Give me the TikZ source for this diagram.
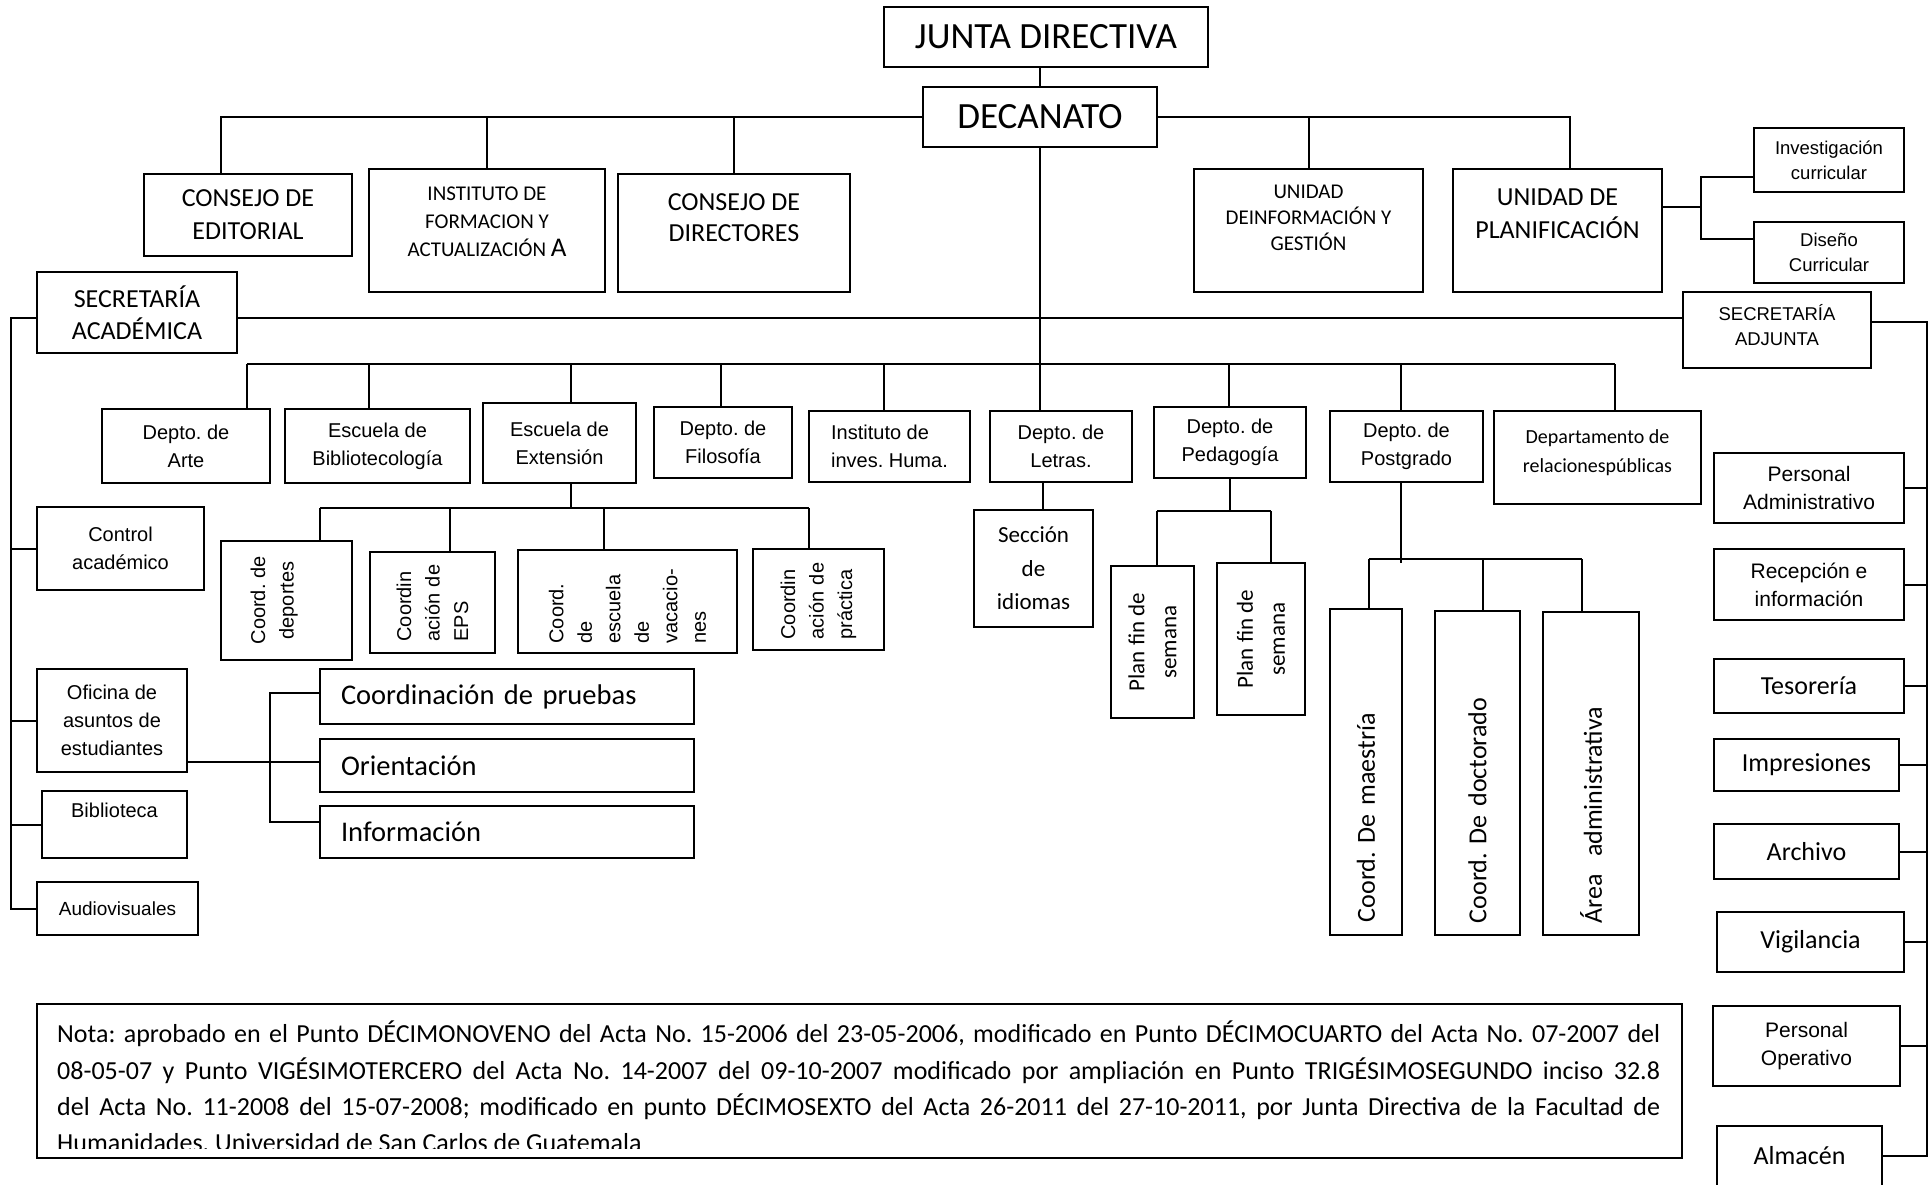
\documentclass[tikz,border=0pt]{standalone}
\usepackage{fontspec}
\setmainfont{Carlito}
\newfontfamily\arialfont{Liberation Sans}
\usetikzlibrary{positioning}
\newcommand{\fsz}[2]{\fontsize{#1}{#2}\selectfont}

\begin{document}
\frenchspacing
\begin{tikzpicture}[
		x=1pt, y=-1pt,
		% Style definitions
		box/.style={draw, line width=1.3pt, inner sep=2pt, align=center, fill=white},
		heavybox/.style={draw, line width=2.8pt, inner xsep=21pt, text width=332pt, align=left, fill=white, font=\fsz{28.5}{32}},
		arl/.style={font=\arialfont\fsz{20}{28}},
		arlsmall/.style={font=\arialfont\fsz{18.5}{25}},
		arlbig/.style={font=\arialfont\fsz{21}{28}},
		vert/.style={box, rotate=90, font=\arialfont\fsz{20}{28.5}},
		notetext/.style={font=\fsz{26}{36.2}, align=left, inner sep=0pt},
		link/.style={line width=2pt},
		]
		\fill[white] (0,0) rectangle (1931,1185);
		\useasboundingbox (0,0) rectangle (1931,1185);

		% === TOP: governing bodies ===
		\node[box, font=\fsz{37}{40}, minimum width=324pt, minimum height=60pt] (junta) at (1046,37) {JUNTA DIRECTIVA};
		\node[box, font=\fsz{37}{40}, minimum width=234pt, minimum height=60pt] (decanato) at (1040,117) {DECANATO};

		% === ROW 1: councils and units ===
		\node[box, font=\fsz{26}{33}, minimum width=208pt, minimum height=82pt] (editorial) at (248,215) {CONSEJO DE\\EDITORIAL};
		\node[box, font=\fsz{21}{28}, minimum width=236pt, minimum height=123pt] (instituto) at (487,230.5) {INSTITUTO DE\\FORMACION Y\\ACTUALIZACIÓN {\fsz{27}{28}A}\\[-10pt]\mbox{}};
		\node[box, font=\fsz{26}{31}, minimum width=232pt, minimum height=118pt] (directores) at (734,233) {CONSEJO DE\\DIRECTORES\\\mbox{}};
		\node[box, font=\fsz{21}{26}, minimum width=229pt, minimum height=123pt] (unidadinfo) at (1308.5,230.5) {UNIDAD\\DEINFORMACIÓN Y\\GESTIÓN\\\mbox{}};
		\node[box, font=\fsz{26}{33}, minimum width=209pt, minimum height=123pt] (planif) at (1557.5,230.5) {UNIDAD DE\\PLANIFICACIÓN\\\mbox{}};
		\node[box, arlsmall, minimum width=150pt, minimum height=64pt] (invest) at (1829,160) {Investigación\\curricular};
		\node[box, arlsmall, minimum width=150pt, minimum height=61pt] (diseno) at (1829,252.5) {Diseño\\Curricular};

		% === ROW 2: secretaries ===
		\node[box, font=\fsz{26}{32}, minimum width=200pt, minimum height=81pt] (secacad) at (137,312.5) {SECRETARÍA\\ACADÉMICA};
		\node[box, arlsmall, minimum width=188pt, minimum height=76pt] (secadj) at (1777,330) {SECRETARÍA\\ADJUNTA\\[-14pt]\mbox{}};

		% === ROW 3: departments and schools ===
		\node[box, arl, minimum width=168pt, minimum height=74pt] (arte) at (186,446) {Depto. de\\Arte};
		\node[box, arl, minimum width=185pt, minimum height=74pt] (biblio) at (377.5,446) {Escuela de\\Bibliotecología};
		\node[box, arl, minimum width=153pt, minimum height=80pt] (extension) at (559.5,443) {Escuela de\\Extensión};
		\node[box, arl, minimum width=138pt, minimum height=71pt] (filosofia) at (723,442.5) {Depto. de\\Filosofía};
		\node[box, arl, align=left, minimum width=161pt, minimum height=71pt] (invhum) at (889.5,446.5) {Instituto de\\inves. Huma.};
		\node[box, arl, minimum width=142pt, minimum height=71pt] (letras) at (1061,446.5) {Depto. de\\Letras.};
		\node[box, arl, minimum width=152pt, minimum height=71pt] (pedagogia) at (1230,442.5) {Depto. de\\Pedagogía};
		\node[box, arl, minimum width=153pt, minimum height=71pt] (postgrado) at (1406.5,446.5) {Depto. de\\Postgrado};
		\node[box, font=\fsz{20}{29}, minimum width=207pt, minimum height=93pt] (relaciones) at (1597.5,457.5) {Departamento de\\relacionespúblicas\\[-17pt]\mbox{}};

		% === Extension coordinations (rotated) ===
		\node[vert, minimum width=119pt, minimum height=131pt] (deportes) at (286.5,600.5) {Coord. de\\deportes\\\mbox{}};
		\node[vert, align=left, text width=78pt, minimum width=101pt, minimum height=125pt] (eps) at (432.5,602.5) {Coordin\\ación de\\EPS};
		\node[vert, align=left, text width=84pt, minimum width=103pt, minimum height=219pt] (vacaciones) at (627.5,601.5) {Coord.\\de\\escuela\\de\\vacacio-\\nes};
		\node[vert, align=left, text width=80pt, minimum width=101pt, minimum height=131pt] (practica) at (818.5,599.5) {Coordin\\ación de\\práctica};

		% === Letras, Pedagogia and Postgrado units ===
		\node[box, font=\fsz{23}{33.5}, minimum width=119pt, minimum height=117pt] (seccion) at (1033.5,568.5) {Sección\\de\\idiomas};
		\node[box, rotate=90, font=\fsz{23}{32}, minimum width=152pt, minimum height=83pt] (planA) at (1152.5,642) {Plan fin de\\semana};
		\node[box, rotate=90, font=\fsz{23}{32}, minimum width=152pt, minimum height=88pt] (planB) at (1261,639) {Plan fin de\\semana};
		\node[box, rotate=90, font=\fsz{26}{30}, align=left, text width=300pt, minimum width=326pt, minimum height=72pt] (maestria) at (1366,772) {Coord. De maestría};
		\node[box, rotate=90, font=\fsz{26}{30}, align=left, text width=300pt, minimum width=324pt, minimum height=85pt] (doctorado) at (1477.5,773) {Coord. De doctorado};
		\node[box, rotate=90, font=\fsz{26}{30}, align=left, text width=300pt, minimum width=323pt, minimum height=96pt] (area) at (1591,773.5) {Área~ administrativa};

		% === LEFT column: academic secretary units ===
		\node[box, arl, minimum width=167pt, minimum height=83pt] (control) at (120.5,548.5) {Control\\académico};
		\node[box, arl, minimum width=150pt, minimum height=103pt] (oficina) at (112,720.5) {Oficina de\\asuntos de\\estudiantes};
		\node[box, arl, minimum width=145pt, minimum height=67pt] (biblioteca) at (114.5,824.5) {Biblioteca\\\mbox{}};
		\node[box, font=\arialfont\fsz{19}{24}, minimum width=161pt, minimum height=53pt] (audio) at (117.5,908.5) {Audiovisuales};
		\node[heavybox, minimum height=55pt] (pruebas) at (507,696.5) {Coordinación de pruebas};
		\node[heavybox, minimum height=53pt] (orientacion) at (507,765.5) {Orientación};
		\node[heavybox, minimum height=52pt] (informacion) at (507,832) {Información};

		% === RIGHT column: adjunct secretary units ===
		\node[box, arlbig, minimum width=190pt, minimum height=70pt] (persadm) at (1809,488) {Personal\\Administrativo};
		\node[box, arlbig, minimum width=190pt, minimum height=71pt] (recepcion) at (1809,584.5) {Recepción e\\información};
		\node[box, font=\fsz{26}{30}, minimum width=190pt, minimum height=54pt] (tesoreria) at (1809,686) {Tesorería};
		\node[box, font=\fsz{26}{30}, minimum width=185pt, minimum height=52pt] (impresiones) at (1806.5,765) {Impresiones};
		\node[box, font=\fsz{26}{30}, minimum width=185pt, minimum height=55pt] (archivo) at (1806.5,851.5) {Archivo};
		\node[box, font=\fsz{26}{30}, minimum width=187pt, minimum height=60pt] (vigilancia) at (1810.5,942) {Vigilancia};
		\node[box, arlbig, minimum width=187pt, minimum height=80pt] (persop) at (1806.5,1046) {Personal\\Operativo};
		\node[box, font=\fsz{26}{30}, minimum width=165pt, minimum height=60pt] (almacen) at (1799.5,1156) {Almacén};

		% === Connectors ===
		\draw[link] (decanato.north) -- (decanato.north |- junta.south);
		\draw[link] (decanato.west) -| (221,0 |- editorial.north);
		\draw[link] (instituto.north) -- (instituto.north |- decanato.west);
		\draw[link] (directores.north) -- (directores.north |- decanato.west);
		\draw[link] (decanato.east) -| (1570,0 |- planif.north);
		\draw[link] (unidadinfo.north) -- (unidadinfo.north |- decanato.east);
		\draw[link] (decanato.south) -- (decanato.south |- letras.north);
		% planning unit bracket
		\draw[link] (planif.east |- 0,207) -- (1701,207);
		\draw[link] (invest.west |- 0,177) -| (1701,239) -- (diseno.west |- 0,239);
		% secretaries
		\draw[link] (secacad.east |- 0,318) -- (secadj.west |- 0,318);
		\draw[link] (secacad.west |- 0,318) -| (11,0 |- audio.west) -- (audio.west);
		\foreach \n in {control, oficina, biblioteca}
			\draw[link] (11,0 |- \n.west) -- (\n.west);
		\draw[link] (secadj.east |- 0,322) -| (1927,0 |- almacen.east) -- (almacen.east);
		\foreach \n in {persadm, recepcion, tesoreria, impresiones, archivo, vigilancia, persop}
			\draw[link] (1927,0 |- \n.east) -- (\n.east);
		% department bar
		\draw[link] (247,364) -- (1615,364);
		\foreach \x/\n in {247/arte, 369/biblio, 571/extension, 721/filosofia, 884/invhum, 1229/pedagogia, 1401/postgrado, 1615/relaciones}
			\draw[link] (\x,364) -- (\x,0 |- \n.north);
		% extension school
		\draw[link] (571,0 |- extension.south) -- (571,508);
		\draw[link] (320,508) -- (809,508);
		\foreach \x/\n in {320/deportes, 450/eps, 604/vacaciones, 809/practica}
			\draw[link] (\x,508) -- (\x,0 |- \n.east);
		% letras, pedagogia, postgrado
		\draw[link] (1043,0 |- letras.south) -- (1043,0 |- seccion.north);
		\draw[link] (pedagogia.south) -- (pedagogia.south |- 0,511);
		\draw[link] (1157,511) -- (1271,511);
		\foreach \x/\n in {1157/planA, 1271/planB}
			\draw[link] (\x,511) -- (\x,0 |- \n.east);
		\draw[link] (1401,0 |- postgrado.south) -- (1401,563);
		\draw[link] (1369,559) -- (1582,559);
		\foreach \x/\n in {1369/maestria, 1483/doctorado, 1582/area}
			\draw[link] (\x,559) -- (\x,0 |- \n.east);
		% student affairs bracket
		\draw[link] (oficina.east |- 0,762) -- (orientacion.west |- 0,762);
		\draw[link] (pruebas.west |- 0,693) -| (270,822) -- (informacion.west |- 0,822);

		% === Note at the bottom ===
		\node[box, minimum width=1645pt, minimum height=154pt] (nota) at (859.5,1081) {};
		\begin{scope}
			\clip (nota.north west) rectangle (1682,1148);
			\node[notetext, anchor=north west] (notatxt) at (57,1021) {%
				\makebox[1603pt][s]{Nota: aprobado en el Punto DÉCIMONOVENO del Acta No. 15-2006 del 23-05-2006, modificado en Punto DÉCIMOCUARTO del Acta No. 07-2007 del}\\
				\makebox[1603pt][s]{08-05-07 y Punto VIGÉSIMOTERCERO del Acta No. 14-2007 del 09-10-2007 modificado por ampliación en Punto TRIGÉSIMOSEGUNDO inciso 32.8}\\
				\makebox[1603pt][s]{del Acta No. 11-2008 del 15-07-2008; modificado en punto DÉCIMOSEXTO del Acta 26-2011 del 27-10-2011, por Junta Directiva de la Facultad de}\\
				Humanidades, Universidad de San Carlos de Guatemala};
		\end{scope}

	\end{tikzpicture}
\end{document}
